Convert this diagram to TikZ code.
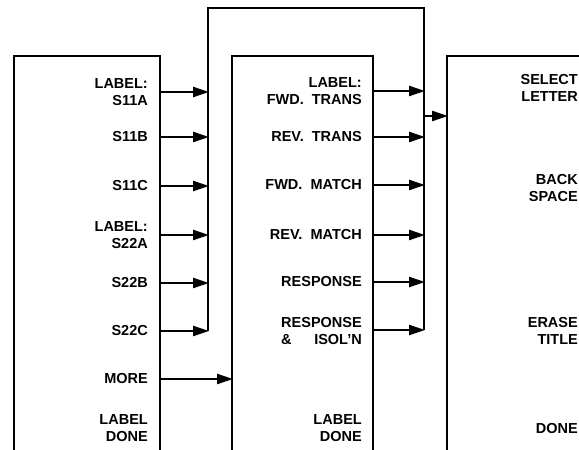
\documentclass[tikz,border=0pt]{standalone}
\usepackage{fontspec}
\setmainfont{Liberation Sans}
\usetikzlibrary{arrows.meta}
\newcommand{\lblfont}{\fontsize{14.5}{16.5}\selectfont\bfseries}
\newlength{\respw}
\begin{document}
\settowidth{\respw}{\lblfont RESPONSE}%
\begin{tikzpicture}[x=1pt,y=-1pt,
  lbl/.style={font=\lblfont, align=right, anchor=east, inner sep=0pt},
  boxline/.style={line width=2.4pt},
  busline/.style={line width=2.4pt},
  conn/.style={line width=2.4pt, -{Triangle[length=16pt,width=10pt]}}]
\useasboundingbox (0,0) rectangle (579,450);
\clip (0,0) rectangle (579,450);
% boxes (open at the bottom, cut by the frame)
\draw[boxline] (14,460) -- (14,56) -- (160,56) -- (160,460);
\draw[boxline] (232,460) -- (232,56) -- (373,56) -- (373,460);
\draw[boxline] (447,460) -- (447,56) -- (600,56);
% buses
\coordinate (lbtop) at (208,8);
\coordinate (rbtop) at (424,8);
\coordinate (lbbot) at (208,331);
\coordinate (rbbot) at (424,330);
\draw[busline] (lbbot) -- (lbtop) -- (rbtop) -- (rbbot);
% left box labels
\node[lbl] (a1) at (148,92) {LABEL:\\S11A};
\node[lbl] (a2) at (148,137) {S11B};
\node[lbl] (a3) at (148,186) {S11C};
\node[lbl] (a4) at (148,235) {LABEL:\\S22A};
\node[lbl] (a5) at (148,283) {S22B};
\node[lbl] (a6) at (148,331) {S22C};
\node[lbl] (a7) at (148,379) {MORE};
\node[lbl] (a8) at (148,428) {LABEL\\DONE};
% middle box labels
\node[lbl] (b1) at (362,91) {LABEL:\\FWD.~~TRANS};
\node[lbl] (b2) at (362,137) {REV.~~TRANS};
\node[lbl] (b3) at (362,185) {FWD.~~MATCH};
\node[lbl] (b4) at (362,235) {REV.~~MATCH};
\node[lbl] (b5) at (362,282) {RESPONSE};
\node[lbl] (b6) at (362,331) {RESPONSE\\\hbox to \respw{\&\hfill ISOL'N}};
\node[lbl] (b7) at (362,428) {LABEL\\DONE};
% right box labels
\node[lbl] (c1) at (578,88) {SELECT\\LETTER};
\node[lbl] (c2) at (578,188) {BACK\\SPACE};
\node[lbl] (c3) at (578,331) {ERASE\\TITLE};
\node[lbl] (c4) at (578,429) {DONE};
% connectors left -> left bus
\foreach \y/\n in {92/1,137/2,186/3,235/4,283/5,331/6}{
  \coordinate (ls\n) at (160,\y);
  \coordinate (le\n) at (209,\y);
  \draw[conn] (ls\n) -- (le\n);
}
% connectors middle -> right bus
\foreach \y/\n in {91/1,137/2,185/3,235/4,282/5,330/6}{
  \coordinate (ms\n) at (373,\y);
  \coordinate (me\n) at (425,\y);
  \draw[conn] (ms\n) -- (me\n);
}
% MORE -> middle box
\coordinate (mo1) at (160,379);
\coordinate (mo2) at (233,379);
\draw[conn] (mo1) -- (mo2);
% right bus -> right box
\coordinate (rb1) at (424,116);
\coordinate (rb2) at (448,116);
\draw[conn] (rb1) -- (rb2);
\end{tikzpicture}
\end{document}
